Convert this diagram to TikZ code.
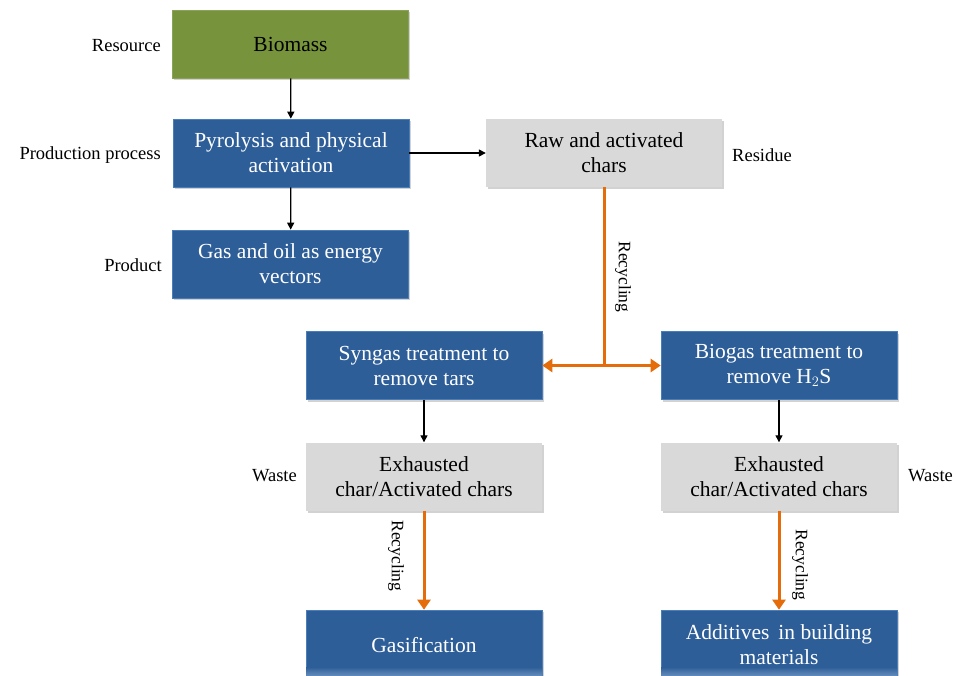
\documentclass[tikz,border=0pt]{standalone}
\usepackage{fontspec}
\setmainfont{Liberation Serif}
\usetikzlibrary{arrows.meta,shadows}
\definecolor{bluebox}{HTML}{2E5E98}
\definecolor{bluerim}{HTML}{4A7EBB}
\definecolor{greenbox}{HTML}{77933C}
\definecolor{graybox}{HTML}{D9D9D9}
\definecolor{orangeln}{HTML}{E46C0A}
\tikzset{
  boxbase/.style={rectangle, minimum width=236pt, minimum height=68pt, align=center, inner sep=0pt,
    font=\fontsize{21.5}{25}\selectfont,
    drop shadow={shadow xshift=1.5pt, shadow yshift=-2pt, opacity=0.35}},
  bluestep/.style={boxbase, fill=bluebox, draw=bluerim, line width=0.6pt, text=white},
  greenstep/.style={boxbase, fill=greenbox, draw=greenbox!85!white, line width=0.6pt, text=black},
  graystep/.style={boxbase, fill=graybox, text=black},
  sidelabel/.style={font=\fontsize{18.5}{22}\selectfont, inner sep=0pt},
  recyclelabel/.style={font=\fontsize{17.5}{20}\selectfont, inner sep=0pt, rotate=-90},
  blackarrow/.style={-{Triangle[length=7pt,width=7pt]}, line width=1.3pt, black},
  orangeline/.style={line width=3pt, orangeln},
  orangearrow/.style={-{Triangle[length=10pt,width=13pt]}, line width=3pt, orangeln},
}
\begin{document}
\begin{tikzpicture}[x=1pt,y=-1pt]
\useasboundingbox (0,0) rectangle (956,675);
\fill[white] (0,0) rectangle (956,675);

\node[greenstep] (bio) at (290.5,44) {Biomass};
\node[bluestep] (pyr) at (291,153) {Pyrolysis and physical\\activation};
\node[bluestep] (gas) at (290.5,264) {Gas and oil as energy\\vectors};
\node[graystep] (raw) at (604,153) {Raw and activated\\chars};
\node[bluestep] (syn) at (424,365.5) {Syngas treatment to\\remove tars};
\node[bluestep] (biog) at (779,365.5) {Biogas treatment to\\remove H$_2$S};
\node[graystep] (exl) at (424,476.5) {Exhausted\\char/Activated chars};
\node[graystep] (exr) at (779,476.5) {Exhausted\\char/Activated chars};
\node[bluestep, minimum height=70pt] (gasif) at (424,645) {Gasification};
\node[bluestep, minimum height=70pt] (addi) at (779,645) {Additives\, in building\\materials};
\shade[top color=bluebox, bottom color=bluerim!70!white] ([xshift=0.3pt]gasif.west |- 0,667) rectangle ([xshift=-0.3pt]gasif.south east);
\shade[top color=bluebox, bottom color=bluerim!70!white] ([xshift=0.3pt]addi.west |- 0,667) rectangle ([xshift=-0.3pt]addi.south east);

\node[sidelabel, anchor=east] (lres) at (161,46) {Resource};
\node[sidelabel, anchor=east] (lprod) at (161,155) {Production process};
\node[sidelabel, anchor=east] (lpro) at (162,265) {Product};
\node[sidelabel, anchor=west] (lresid) at (732,155) {Residue};
\node[sidelabel, anchor=east] (lwl) at (297,476) {Waste};
\node[sidelabel, anchor=west] (lwr) at (908,476) {Waste};
\node[recyclelabel] (rc1) at (623,277) {Recycling};
\node[recyclelabel] (rc2) at (396,556) {Recycling};
\node[recyclelabel] (rc3) at (800,565) {Recycling};

\draw[blackarrow] (bio) -- (pyr);
\draw[blackarrow] (pyr) -- (gas);
\draw[blackarrow] (pyr) -- (raw);
\draw[blackarrow] (syn) -- (exl);
\draw[blackarrow] (biog) -- (exr);

\coordinate (junc) at (raw.south |- syn.east);
\draw[orangeline] (raw.south) -- ([yshift=-1.5pt]junc);
\draw[orangearrow] (junc) -- (syn.east);
\draw[orangearrow] (junc) -- (biog.west);
\draw[orangearrow] (exl) -- (gasif);
\draw[orangearrow] (exr) -- (addi);
\end{tikzpicture}
\end{document}
